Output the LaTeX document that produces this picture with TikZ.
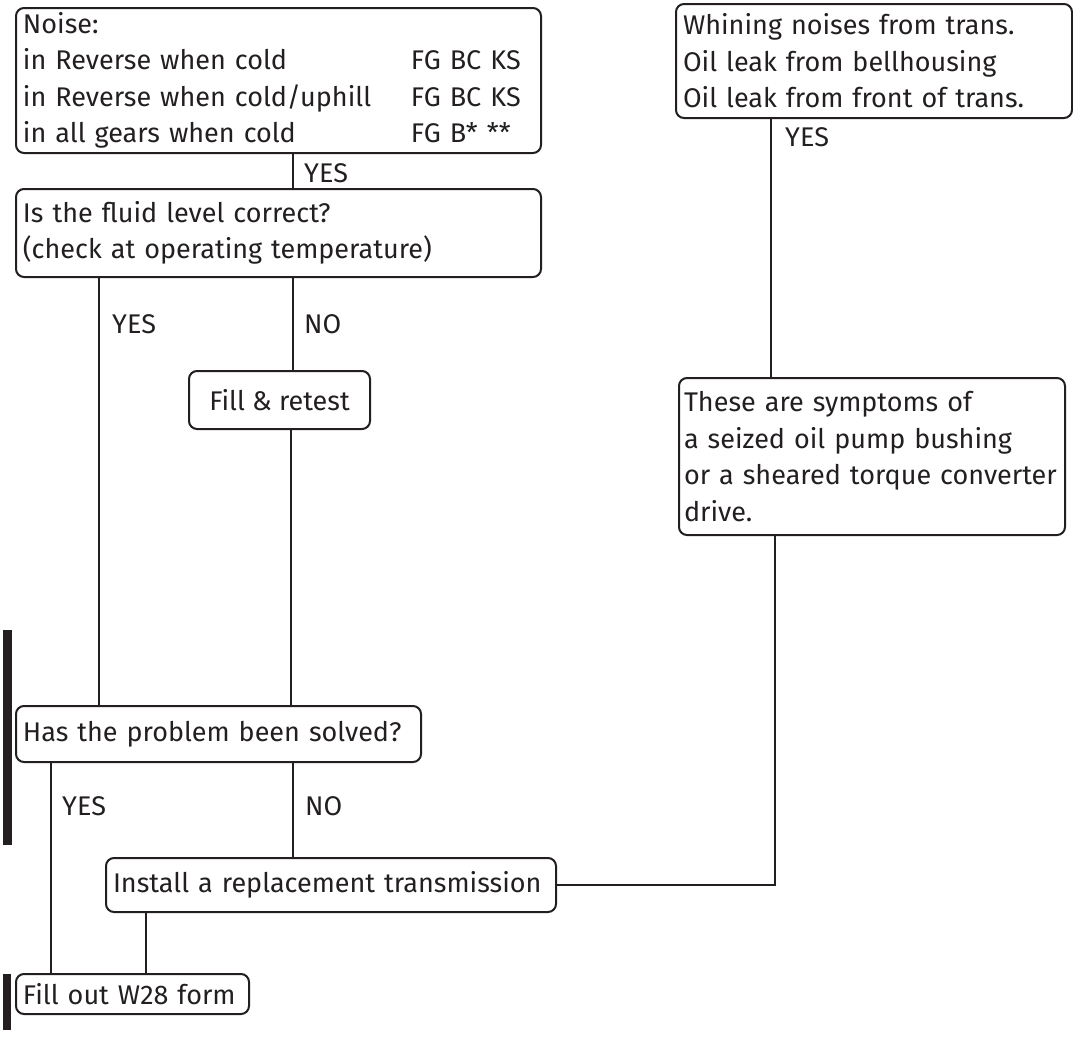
\documentclass[tikz,border=0pt]{standalone}
\usepackage{fontspec}
\setmainfont{Fira Sans}
\definecolor{ink}{HTML}{231F20}
\newcommand{\flowtext}{\fontsize{27}{36.5}\selectfont}

\begin{document}
\begin{tikzpicture}[x=1pt,y=-1pt,
  box/.style={draw=ink, text=ink, line width=2pt, rounded corners=8pt,
    anchor=north west, align=left, inner xsep=7pt, inner ysep=0pt, font=\flowtext},
  answer/.style={anchor=base west, inner sep=0pt, text=ink, font=\flowtext},
  wire/.style={draw=ink, line width=2pt}]
\useasboundingbox (0,0) rectangle (1073,1036);
\node[box, text width=511pt, minimum height=145pt] (noise) at (15,7)
  {Noise:\\
   \makebox[388pt][l]{in Reverse when cold}FG BC KS\\
   \makebox[388pt][l]{in Reverse when cold/uphill}FG BC KS\\
   \makebox[388pt][l]{in all gears when cold}FG B* **};
\node[box, text width=511pt, minimum height=88pt] (fluid) at (15,188)
  {Is the fluid level correct?\\(check at operating temperature)};
\node[box, minimum width=181pt, minimum height=58pt] (fill) at (188,370) {Fill \& retest};
\node[box, text width=391pt, minimum height=56pt] (has) at (15,705) {Has the problem been solved?};
\node[box, text width=436pt, minimum height=54pt] (install) at (105,857) {Install a replacement transmission};
\node[box, text width=219pt, minimum height=40pt] (form) at (15,973) {Fill out W28 form};
\node[box, text width=382pt, minimum height=114pt] (whine) at (675,3)
  {Whining noises from trans.\\Oil leak from bellhousing\\Oil leak from front of trans.};
\node[box, text width=376pt, inner xsep=5pt, minimum height=157pt] (symptom) at (678,377)
  {These are symptoms of\\a seized oil pump bushing\\or a sheared torque converter\\drive.};

\draw[wire] ([xshift=278pt]noise.south west) -- ([xshift=278pt]noise.south west |- fluid.north);
\draw[wire] ([xshift=84pt]fluid.south west) -- ([xshift=84pt]fluid.south west |- has.north);
\draw[wire] ([xshift=278pt]fluid.south west) -- ([xshift=278pt]fluid.south west |- fill.north);
\draw[wire] ([xshift=103pt]fill.south west) -- ([xshift=103pt]fill.south west |- has.north);
\draw[wire] ([xshift=36pt]has.south west) -- ([xshift=36pt]has.south west |- form.north);
\draw[wire] ([xshift=278pt]has.south west) -- ([xshift=278pt]has.south west |- install.north);
\draw[wire] ([xshift=41pt]install.south west) -- ([xshift=41pt]install.south west |- form.north);
\draw[wire] ([xshift=96pt]whine.south west) -- ([xshift=96pt]whine.south west |- symptom.north);
\draw[wire] ([xshift=97pt]symptom.south west) |- (install.east);

\node[answer] (yes1) at (304,182) {YES};
\node[answer] (yes2) at (112,333) {YES};
\node[answer] (no2) at (304,333) {NO};
\node[answer] (yes3) at (62,815) {YES};
\node[answer] (no3) at (305,815) {NO};
\node[answer] (yes4) at (785,146) {YES};

\fill[ink] (3,630) rectangle (12,845);
\fill[ink] (3,974) rectangle (11,1030);
\end{tikzpicture}
\end{document}
